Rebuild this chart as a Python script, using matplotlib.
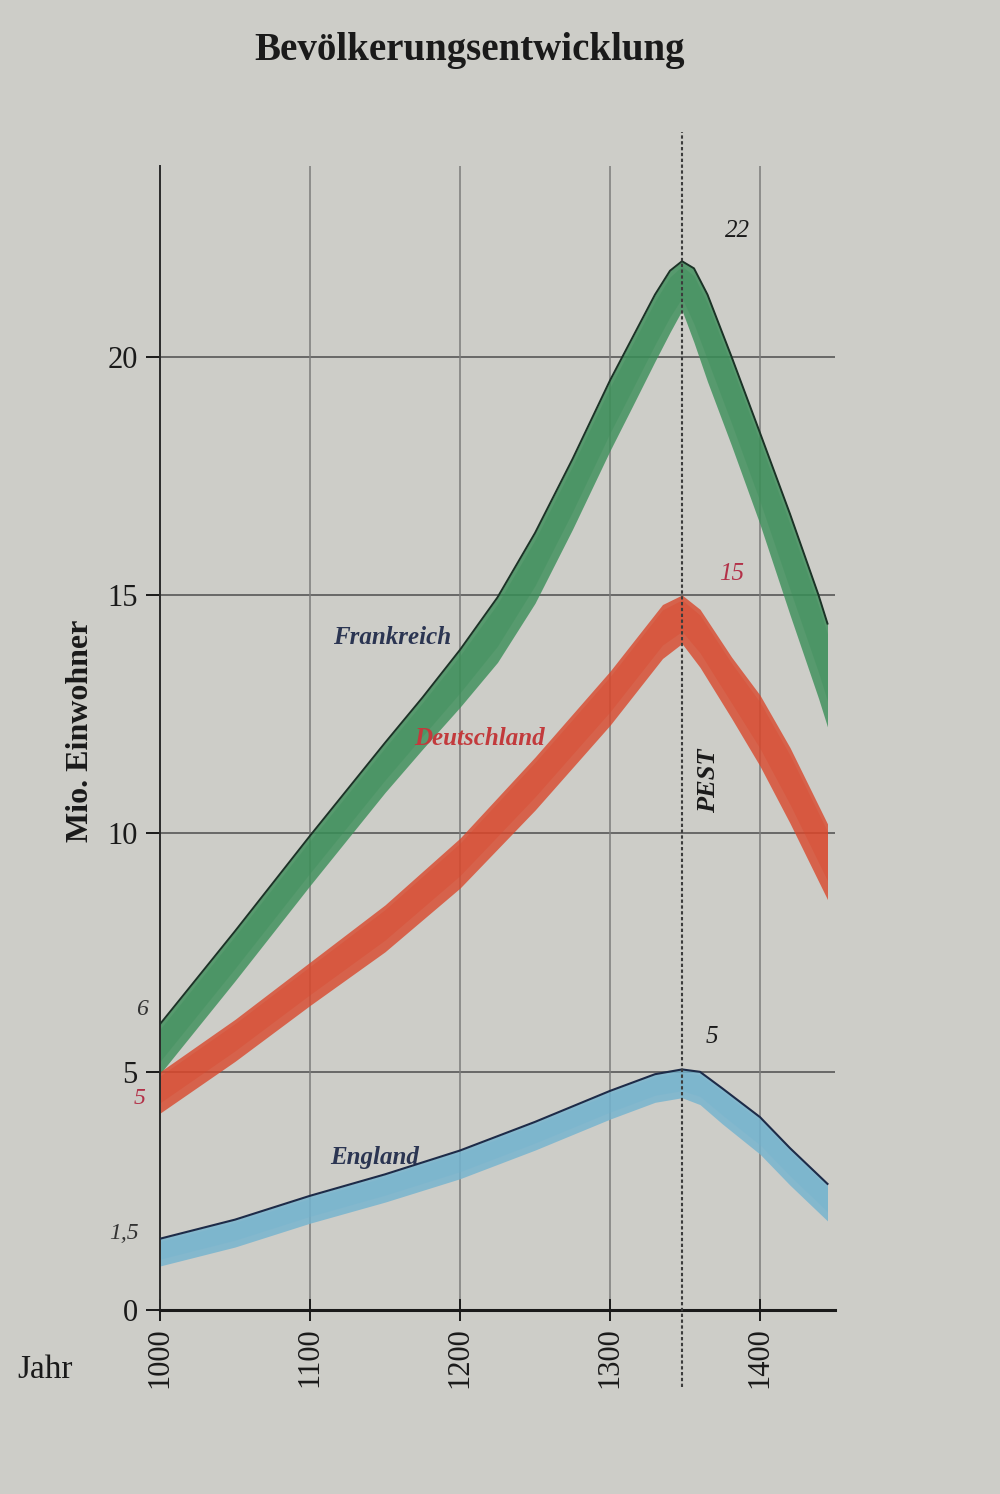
import numpy as np
import matplotlib.pyplot as plt

plt.rcParams['font.family'] = ['Liberation Serif', 'DejaVu Serif']

# Werte (Mio. Einwohner)
years_fr = [1000, 1050, 1100, 1150, 1175, 1200, 1225, 1250, 1275, 1300, 1315,
            1330, 1340, 1348, 1356, 1365, 1381, 1400, 1420, 1439, 1445]
frankreich = [6.0, 7.95, 9.95, 11.9, 12.85, 13.85, 14.95, 16.3, 17.85, 19.5, 20.4,
              21.3, 21.8, 22.0, 21.85, 21.3, 20.0, 18.4, 16.7, 15.0, 14.4]

years_de = [1000, 1050, 1100, 1150, 1200, 1250, 1300, 1320, 1335, 1348, 1360,
            1381, 1400, 1420, 1445]
deutschland = [5.0, 6.1, 7.3, 8.5, 9.9, 11.6, 13.4, 14.2, 14.8, 15.0, 14.7,
               13.7, 12.9, 11.8, 10.2]

years_en = [1000, 1050, 1100, 1150, 1200, 1250, 1300, 1330, 1348, 1360, 1375,
            1400, 1420, 1445]
england = [1.5, 1.9, 2.4, 2.85, 3.35, 3.95, 4.6, 4.95, 5.05, 5.0, 4.65,
           4.05, 3.4, 2.65]

pest_year = 1348
x_ticks = [1000, 1100, 1200, 1300, 1400]
y_ticks = [0, 5, 10, 15, 20]

bg = '#cdcdc8'
fig = plt.figure(figsize=(10, 14.94), dpi=100, facecolor=bg)
ax = fig.add_axes([0.16, 0.123, 0.675, 0.766], facecolor=bg)
ax.set_xlim(1000, 1450)
ax.set_ylim(0, 24)

# Pixel pro Jahr / pro Mio. fuer Strichbreite der Farbbaender
px_year = 0.675 * 1000 / 450
px_unit = 0.766 * 1494 / 24


def band(x, y, base, color):
    x = np.asarray(x, float)
    y = np.asarray(y, float)
    s = np.gradient(y, x) * px_unit / px_year
    th = base * np.sqrt(1 + s ** 2)
    # an Spitzen breiter (Strich laeuft unten zusammen)
    th = np.maximum(th, np.maximum(np.r_[th[1:], th[-1]], np.r_[th[0], th[:-1]]))
    ax.fill_between(x, y - th, y, color=color, lw=0, alpha=0.8, zorder=2)
    ax.fill_between(x, y - th * 0.75, y - th * 0.1, color=color, lw=0,
                    alpha=0.35, zorder=2)


# Gitter
for yv in y_ticks[1:]:
    ax.axhline(yv, color='#4d4d4d', lw=1.1, zorder=1)
for xv in x_ticks[1:]:
    ax.axvline(xv, color='#7c7c7a', lw=1.1, zorder=1)

band(years_fr, frankreich, 0.65, '#3a8e58')
band(years_de, deutschland, 0.7, '#d9472c')
band(years_en, england, 0.55, '#72b3cf')

ax.plot(years_fr, frankreich, color='#1b3226', lw=1.4, zorder=3)
ax.plot(years_en, england, color='#1d2b48', lw=1.5, zorder=3)

# Pest
ax.plot([pest_year, pest_year], [-1.6, 24.7], color='#3c3c3c', lw=1.5,
        ls=(0, (1.6, 1.2)), clip_on=False, zorder=4)
ax.text(pest_year + 18, 11.1, 'PEST', rotation=90, fontsize=19,
        fontweight='bold', style='italic', ha='center', va='center',
        color='#1a1a1a')

# Achsen
for side in ['top', 'right']:
    ax.spines[side].set_visible(False)
ax.spines['left'].set_color('#2a2a2a')
ax.spines['left'].set_linewidth(1.4)
ax.spines['bottom'].set_color('#1a1a1a')
ax.spines['bottom'].set_linewidth(2.2)
ax.set_xticks(x_ticks)
ax.set_yticks(y_ticks)
ax.set_xticklabels([str(v) for v in x_ticks], rotation=90, fontsize=22)
ax.set_yticklabels([str(v) for v in y_ticks], fontsize=22)
ax.tick_params(axis='x', direction='inout', length=16, width=1.4,
               pad=4, colors='#1a1a1a')
ax.tick_params(axis='y', direction='out', length=10, width=1.4,
               pad=6, colors='#1a1a1a')

# Beschriftungen
ax.text(1155, 14.1, 'Frankreich', fontsize=18, style='italic',
        fontweight='bold', color='#2b3552', ha='center', va='center')
ax.text(1213, 12.0, 'Deutschland', fontsize=18, style='italic',
        fontweight='bold', color='#c23a3c', ha='center', va='center')
ax.text(1143, 3.2, 'England', fontsize=18, style='italic',
        fontweight='bold', color='#2b3552', ha='center', va='center')

ax.text(1385, 22.4, '22', fontsize=18, style='italic', color='#1a1a1a',
        ha='center', va='bottom')
ax.text(1381, 15.2, '15', fontsize=18, style='italic', color='#b33048',
        ha='center', va='bottom')
ax.text(1368, 5.5, '5', fontsize=18, style='italic', color='#1a1a1a',
        ha='center', va='bottom')
ax.text(992, 6.3, '6', fontsize=17, style='italic', color='#333333',
        ha='right', va='center', clip_on=False)
ax.text(990, 4.45, '5', fontsize=17, style='italic', color='#b33048',
        ha='right', va='center', clip_on=False)
ax.text(986, 1.6, '1,5', fontsize=17, style='italic', color='#333333',
        ha='right', va='center', clip_on=False)

fig.text(0.47, 0.966, 'Bevölkerungsentwicklung', fontsize=28,
         fontweight='bold', ha='center', va='center', color='#1a1a1a')
fig.text(0.08, 0.511, 'Mio. Einwohner', fontsize=23, fontweight='bold',
         rotation=90, ha='center', va='center', color='#1a1a1a')
fig.text(0.045, 0.083, 'Jahr', fontsize=24, ha='center', va='center',
         color='#1a1a1a')

fig.savefig('out.png', dpi=100, facecolor=bg)
